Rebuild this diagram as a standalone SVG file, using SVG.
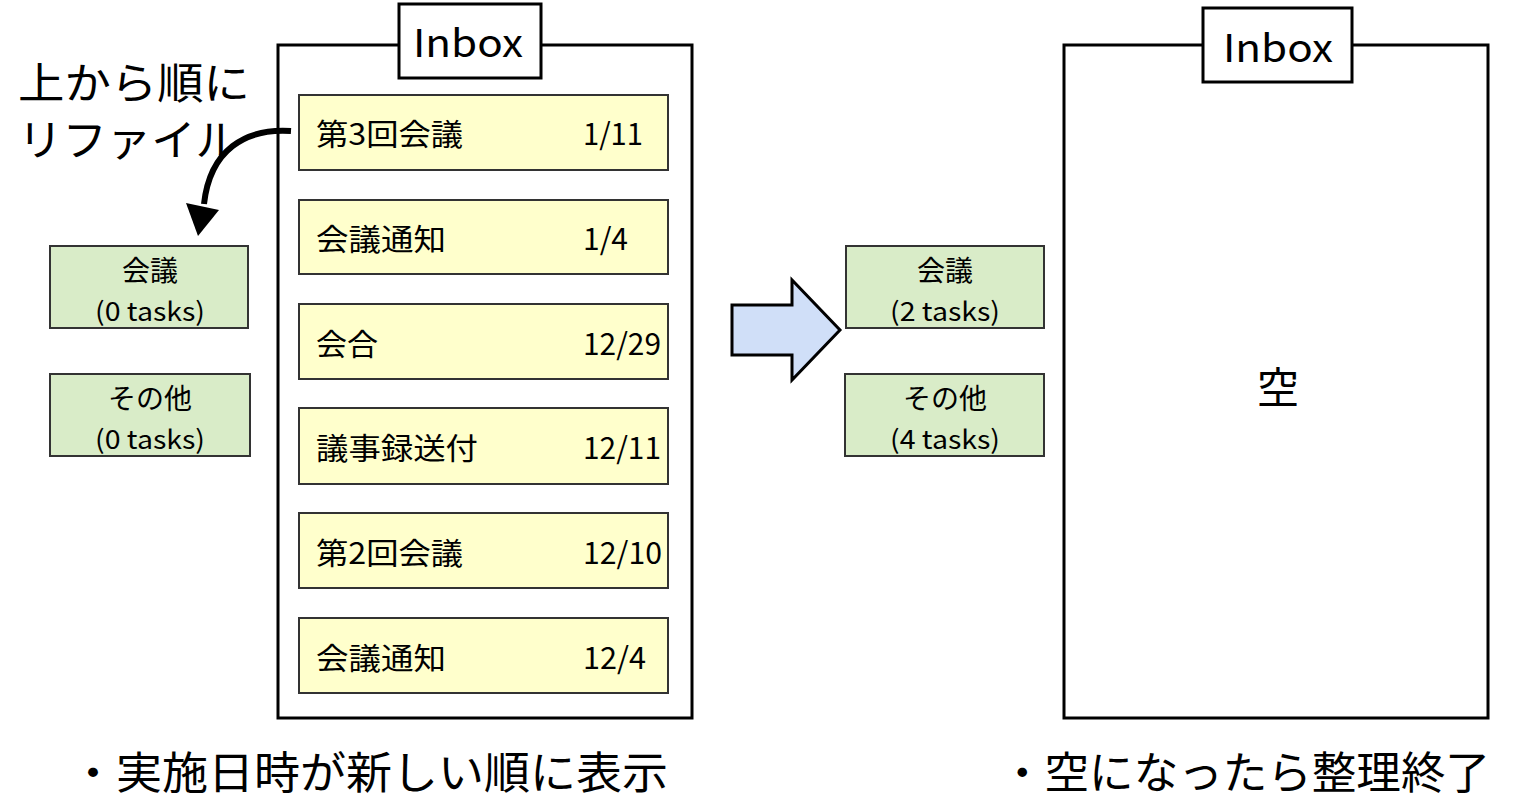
<svg xmlns="http://www.w3.org/2000/svg" width="1514" height="806" viewBox="0 0 1514 806">
<style>
.t{font-family:"Noto Sans CJK JP","Noto Sans",sans-serif;fill:#000}
.task{fill:#ffffcc;stroke:#333;stroke-width:2}
.grp{fill:#d9ecc8;stroke:#333;stroke-width:2}
.box{fill:#fff;stroke:#000;stroke-width:3}
.lbl{fill:#fff;stroke:#000;stroke-width:3}
.tk{font-size:30px}
</style>
<rect width="1514" height="806" fill="#fff"/>
<g id="inbox-left">
<rect class="box" x="278" y="45" width="414" height="673"/>
<rect class="lbl" x="399" y="4" width="142" height="74"/>
<text class="t" x="468" y="57" font-size="38" text-anchor="middle" textLength="110" lengthAdjust="spacingAndGlyphs">Inbox</text>
</g>
<g id="task1"><rect class="task" x="299" y="95" width="369" height="75"/><text class="t tk" x="316" y="145" textLength="147" lengthAdjust="spacingAndGlyphs">第3回会議</text><text class="t tk" x="583" y="145" textLength="60" lengthAdjust="spacingAndGlyphs">1/11</text></g>
<g id="task2"><rect class="task" x="299" y="200" width="369" height="74"/><text class="t tk" x="316" y="250" textLength="130" lengthAdjust="spacingAndGlyphs">会議通知</text><text class="t tk" x="583" y="250" textLength="45" lengthAdjust="spacingAndGlyphs">1/4</text></g>
<g id="task3"><rect class="task" x="299" y="304" width="369" height="75"/><text class="t tk" x="316" y="355" textLength="62" lengthAdjust="spacingAndGlyphs">会合</text><text class="t tk" x="583" y="355" textLength="78" lengthAdjust="spacingAndGlyphs">12/29</text></g>
<g id="task4"><rect class="task" x="299" y="408" width="369" height="76"/><text class="t tk" x="316" y="459" textLength="162" lengthAdjust="spacingAndGlyphs">議事録送付</text><text class="t tk" x="583" y="459" textLength="78" lengthAdjust="spacingAndGlyphs">12/11</text></g>
<g id="task5"><rect class="task" x="299" y="513" width="369" height="75"/><text class="t tk" x="316" y="564" textLength="147" lengthAdjust="spacingAndGlyphs">第2回会議</text><text class="t tk" x="583" y="564" textLength="79" lengthAdjust="spacingAndGlyphs">12/10</text></g>
<g id="task6"><rect class="task" x="299" y="618" width="369" height="75"/><text class="t tk" x="316" y="669" textLength="130" lengthAdjust="spacingAndGlyphs">会議通知</text><text class="t tk" x="583" y="669" textLength="63" lengthAdjust="spacingAndGlyphs">12/4</text></g>
<g id="grp-meeting-left"><rect class="grp" x="50" y="246" width="198" height="82"/><text class="t" x="150" y="281" font-size="28" text-anchor="middle">会議</text><text class="t" x="150" y="321" font-size="26" text-anchor="middle" textLength="110" lengthAdjust="spacingAndGlyphs">(0 tasks)</text></g>
<g id="grp-other-left"><rect class="grp" x="50" y="374" width="200" height="82"/><text class="t" x="150" y="409" font-size="28" text-anchor="middle">その他</text><text class="t" x="150" y="449" font-size="26" text-anchor="middle" textLength="110" lengthAdjust="spacingAndGlyphs">(0 tasks)</text></g>
<g id="grp-meeting-right"><rect class="grp" x="846" y="246" width="198" height="82"/><text class="t" x="945" y="281" font-size="28" text-anchor="middle">会議</text><text class="t" x="945" y="321" font-size="26" text-anchor="middle" textLength="110" lengthAdjust="spacingAndGlyphs">(2 tasks)</text></g>
<g id="grp-other-right"><rect class="grp" x="845" y="374" width="199" height="82"/><text class="t" x="945" y="409" font-size="28" text-anchor="middle">その他</text><text class="t" x="945" y="449" font-size="26" text-anchor="middle" textLength="110" lengthAdjust="spacingAndGlyphs">(4 tasks)</text></g>
<g id="inbox-right">
<rect class="box" x="1064" y="45" width="424" height="673"/>
<rect class="lbl" x="1203" y="8" width="149" height="74"/>
<text class="t" x="1278" y="62" font-size="38" text-anchor="middle" textLength="110" lengthAdjust="spacingAndGlyphs">Inbox</text>
<text class="t" x="1278" y="403" font-size="42" text-anchor="middle">空</text>
</g>
<g id="labels">
<text class="t" x="18" y="99" font-size="43" textLength="232" lengthAdjust="spacingAndGlyphs">上から順に</text>
<text class="t" x="18" y="156" font-size="43" textLength="222" lengthAdjust="spacingAndGlyphs">リファイル</text>
<text class="t" x="70" y="789" font-size="44" textLength="598" lengthAdjust="spacingAndGlyphs">・実施日時が新しい順に表示</text>
<text class="t" x="1000" y="789" font-size="44" textLength="490" lengthAdjust="spacingAndGlyphs">・空になったら整理終了</text>
</g>
<g id="connectors">
<path d="M291 131 C245 128 210 150 204 204" fill="none" stroke="#000" stroke-width="6"/>
<polygon points="186,203 219,210 198,236" fill="#000"/>
<polygon points="732,305 792,305 792,280 840,330 792,380 792,355 732,355" fill="#d0dff8" stroke="#000" stroke-width="3"/>
</g>
</svg>
